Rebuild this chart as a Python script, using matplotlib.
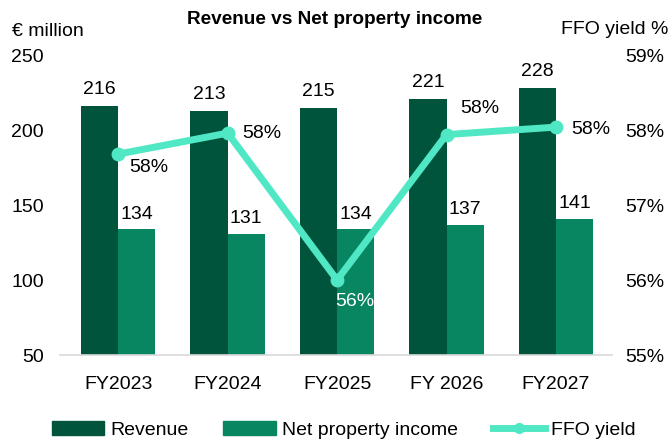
import numpy as np
import matplotlib.pyplot as plt
from matplotlib.lines import Line2D
from matplotlib.patches import Patch

plt.rcParams['font.family'] = ['Liberation Sans', 'DejaVu Sans']

years = ['FY2023', 'FY2024', 'FY2025', 'FY 2026', 'FY2027']
revenue = [216, 213, 215, 221, 228]
npi = [134, 131, 134, 137, 141]
ffo = [57.68, 57.96, 56.0, 57.94, 58.04]
ffo_labels = ['58%', '58%', '56%', '58%', '58%']

c_rev = '#00543C'
c_npi = '#078661'
c_ffo = '#50E8C4'
fs = 14

fig = plt.figure(figsize=(6.7, 4.41), dpi=100)
ax = fig.add_axes([0.09, 0.195, 0.823, 0.68])
x = np.arange(len(years))
w = 0.34

ax.bar(x - w/2, revenue, w, color=c_rev, zorder=2)
ax.bar(x + w/2, npi, w, color=c_npi, zorder=2)
for i in range(len(x)):
    ax.text(x[i] - w/2, revenue[i] + 11, str(revenue[i]), ha='center', va='center', fontsize=fs)
    ax.text(x[i] + w/2, npi[i] + 10, str(npi[i]), ha='center', va='center', fontsize=fs)

ax.set_ylim(50, 250)
ax.set_xlim(-0.53, 4.51)
ax.set_yticks([50, 100, 150, 200, 250])
ax.set_xticks(x)
ax.set_xticklabels(years)
ax.tick_params(axis='both', length=0, labelsize=fs)
ax.tick_params(axis='y', pad=12)
ax.tick_params(axis='x', pad=15)
for s in ['top', 'left', 'right']:
    ax.spines[s].set_visible(False)
ax.spines['bottom'].set_color('#d9d9d9')
ax.spines['bottom'].set_linewidth(1.2)

ax2 = ax.twinx()
ax2.plot(x, ffo, color=c_ffo, lw=5, marker='o', ms=9, zorder=5)
ax2.set_ylim(55, 59)
ax2.set_yticks([55, 56, 57, 58, 59])
ax2.set_yticklabels(['55%', '56%', '57%', '58%', '59%'])
ax2.tick_params(axis='y', length=0, labelsize=fs, pad=10)
for s in ax2.spines.values():
    s.set_visible(False)

# FFO labels
offs = [(0.28, -0.18), (0.31, 0.0), (0.16, -0.29), (0.3, 0.35), (0.32, -0.03)]
for i in range(len(x)):
    ax2.text(x[i] + offs[i][0], ffo[i] + offs[i][1], ffo_labels[i], ha='center', va='center',
             fontsize=fs, color='white' if i == 2 else 'black', zorder=6)

fig.text(0.5, 0.955, 'Revenue vs Net property income', ha='center', va='center',
         fontsize=13.7, fontweight='bold')
fig.text(0.018, 0.928, '€ million', ha='left', va='center', fontsize=fs)
fig.text(0.997, 0.932, 'FFO yield %', ha='right', va='center', fontsize=fs)

handles = [Patch(color=c_rev), Patch(color=c_npi),
           Line2D([0], [0], color=c_ffo, lw=5, marker='o', ms=7)]
fig.legend(handles, ['Revenue', 'Net property income', 'FFO yield'], loc='center',
           bbox_to_anchor=(0.513, 0.025), ncol=3, frameon=False, fontsize=fs,
           handlelength=2.7, handletextpad=0.3, columnspacing=1.8)

fig.savefig('out.png', dpi=100)
